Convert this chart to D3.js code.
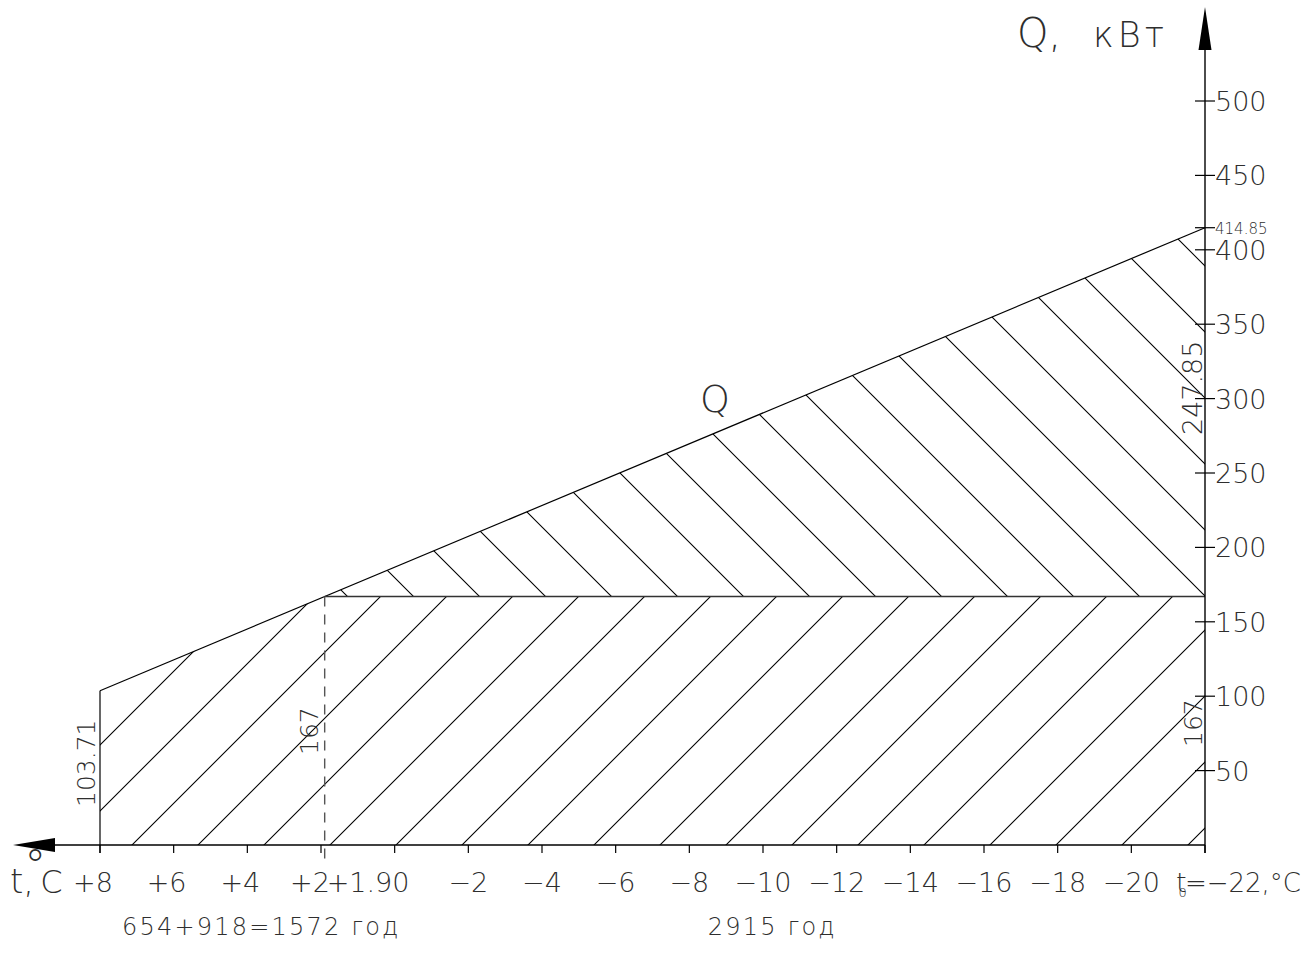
<!DOCTYPE html>
<html><head><meta charset="utf-8">
<script src="https://cdn.jsdelivr.net/npm/d3@7"></script>
<style>
html,body{margin:0;padding:0;background:#fff;}
svg{display:block;}
text{font-family:"DejaVu Sans",sans-serif;font-weight:200;fill:#2e2e2e;}
</style></head>
<body>
<script>
// ---- data ----
const tStart = 8, tEnd = -22, tBal = 1.90;
const qStart = 103.71, qEnd = 414.85, qBase = 167;
const qDiff = 247.85;
const tempTicks = [8,6,4,2,0,-2,-4,-6,-8,-10,-12,-14,-16,-18,-20,-22];
const tempLabels = ["+8","+6","+4","+2","","−2","−4","−6","−8","−10","−12","−14","−16","−18","−20",""];
const qTicks = [50,100,150,200,250,300,350,400,450,500];
const qTickLabels = ["50","100","150","200","250","300","350","400","450","500"];
const balLabel = "+1.90";
const endLabel = ["t","0","=−22,°C"];
const hoursLabels = ["654+918=1572 год","2915 год"];
const hoursPos = [7.4, -8.5];
const yTitle = ["Q,","кВт"];
const xTitle = ["t,","°","C"];
const curveName = "Q";

const W = 1312, H = 953;
const x = d3.scaleLinear().domain([tStart, tEnd]).range([100, 1205]);
const y = d3.scaleLinear().domain([0, 500]).range([845, 101]);

const svg = d3.select("body").append("svg").attr("width", W).attr("height", H);
const defs = svg.append("defs");

// hatch patterns
const p1 = defs.append("pattern").attr("id","hatchA").attr("patternUnits","userSpaceOnUse")
  .attr("width",66).attr("height",66).attr("x",53).attr("y",0);
p1.append("path").attr("d","M-2,2 L2,-2 M0,66 L66,0 M64,68 L68,64").attr("stroke","#000").attr("stroke-width",1.1);
const p2 = defs.append("pattern").attr("id","hatchB").attr("patternUnits","userSpaceOnUse")
  .attr("width",66).attr("height",66).attr("x",15).attr("y",0);
p2.append("path").attr("d","M-2,64 L2,68 M0,0 L66,66 M64,-2 L68,2").attr("stroke","#000").attr("stroke-width",1.1);

const line = d3.line().x(d=>x(d[0])).y(d=>y(d[1]));

// lower region (base load)
const lower = [[tStart,0],[tStart,qStart],[tBal,qBase],[tEnd,qBase],[tEnd,0]];
svg.append("path").attr("d", line(lower)+"Z").attr("fill","url(#hatchA)").attr("stroke","none");
// upper region
const upper = [[tBal,qBase],[tEnd,qEnd],[tEnd,qBase]];
svg.append("path").attr("d", line(upper)+"Z").attr("fill","url(#hatchB)").attr("stroke","none");

// Q line
svg.append("path").attr("d", line([[tStart,qStart],[tEnd,qEnd]]))
  .attr("stroke","#000").attr("stroke-width",1.2).attr("fill","none");
// left border
svg.append("line").attr("x1",x(tStart)).attr("x2",x(tStart)).attr("y1",y(qStart)).attr("y2",y(0)+8)
  .attr("stroke","#000").attr("stroke-width",1.2);
// base load line
svg.append("line").attr("x1",x(tBal)).attr("x2",x(tEnd)).attr("y1",y(qBase)).attr("y2",y(qBase))
  .attr("stroke","#333").attr("stroke-width",1.4);
// dashed line
svg.append("line").attr("x1",x(tBal)).attr("x2",x(tBal)).attr("y1",y(qBase)).attr("y2",y(0)+17)
  .attr("stroke","#555").attr("stroke-width",1.4).attr("stroke-dasharray","10,8");

// axes
const ax = svg.append("g");
ax.append("line").attr("x1",55).attr("x2",x(tEnd)).attr("y1",y(0)).attr("y2",y(0)).attr("stroke","#000").attr("stroke-width",1.4);
ax.append("path").attr("d",`M13,${y(0)} L55,${y(0)-7} L55,${y(0)+7} Z`).attr("fill","#000");
ax.append("line").attr("x1",x(tEnd)).attr("x2",x(tEnd)).attr("y1",50).attr("y2",y(0)+8).attr("stroke","#000").attr("stroke-width",1.4);
ax.append("path").attr("d",`M${x(tEnd)},7 L${x(tEnd)-6.5},50 L${x(tEnd)+6.5},50 Z`).attr("fill","#000");

// x ticks
tempTicks.forEach((t,i)=>{
  ax.append("line").attr("x1",x(t)).attr("x2",x(t)).attr("y1",y(0)).attr("y2",y(0)+8).attr("stroke","#000").attr("stroke-width",1.2);
  if (tempLabels[i]) {
    ax.append("text").attr("x",x(t) + (t>0?(t===2?-11:-7):0)).attr("y",892).attr("text-anchor","middle")
      .attr("font-size",27).text(tempLabels[i]);
  }
});
ax.append("text").attr("x",x(tBal)+2).attr("y",892).attr("font-size",27).text(balLabel);
// t0 label (single text)
const t0 = ax.append("text").attr("x",1176).attr("y",892).attr("font-size",27);
t0.append("tspan").text(endLabel[0]);
t0.append("tspan").attr("font-size",13).attr("dx",-8).attr("dy",5).text(endLabel[1]);
t0.append("tspan").attr("font-size",26).attr("dx",-2).attr("dy",-5).text(endLabel[2]);

// y ticks
qTicks.forEach((q,i)=>{
  ax.append("line").attr("x1",x(tEnd)-10).attr("x2",x(tEnd)+10).attr("y1",y(q)).attr("y2",y(q)).attr("stroke","#000").attr("stroke-width",1.2);
  ax.append("text").attr("x",x(tEnd)+10).attr("y",y(q)+10).attr("font-size",27).text(qTickLabels[i]);
});
ax.append("line").attr("x1",x(tEnd)-10).attr("x2",x(tEnd)+10).attr("y1",y(qEnd)).attr("y2",y(qEnd)).attr("stroke","#000").attr("stroke-width",1.2);
ax.append("text").attr("x",x(tEnd)+10).attr("y",y(qEnd)+6).attr("font-size",15).text(qEnd.toFixed(2));

// titles
svg.append("text").attr("x",1017).attr("y",47).attr("font-size",40).text(yTitle[0]);
svg.append("text").attr("x",1093).attr("y",47).attr("font-size",35).attr("letter-spacing",4).text(yTitle[1]);
const xt = svg.append("text").attr("x",10).attr("y",893).attr("font-size",34);
xt.append("tspan").text(xTitle[0]);
xt.append("tspan").attr("font-size",44).attr("dx",-10).attr("dy",-12).text(xTitle[1]);
xt.append("tspan").attr("font-size",32).attr("dx",-6).attr("dy",12).text(xTitle[2]);

// curve name
svg.append("text").attr("x",715).attr("y",412).attr("text-anchor","middle").attr("font-size",38).text(curveName);

// rotated value labels
function vlabel(px, py, txt, fs){
  svg.append("text").attr("transform",`translate(${px},${py}) rotate(-90)`).attr("font-size",fs).text(txt);
}
vlabel(x(tStart)-5, 807, qStart.toFixed(2), 25);
vlabel(x(tBal)-7, 755, String(qBase), 25);
vlabel(x(tEnd)-3, 747, String(qBase), 25);
vlabel(x(tEnd)-3, 435, qDiff.toFixed(2), 27);

// hours
svg.append("text").attr("x",x(hoursPos[0])).attr("y",935).attr("font-size",24).attr("letter-spacing",2.2).text(hoursLabels[0]);
svg.append("text").attr("x",x(hoursPos[1])).attr("y",935).attr("font-size",24).attr("letter-spacing",2.2).text(hoursLabels[1]);
</script>
</body></html>
